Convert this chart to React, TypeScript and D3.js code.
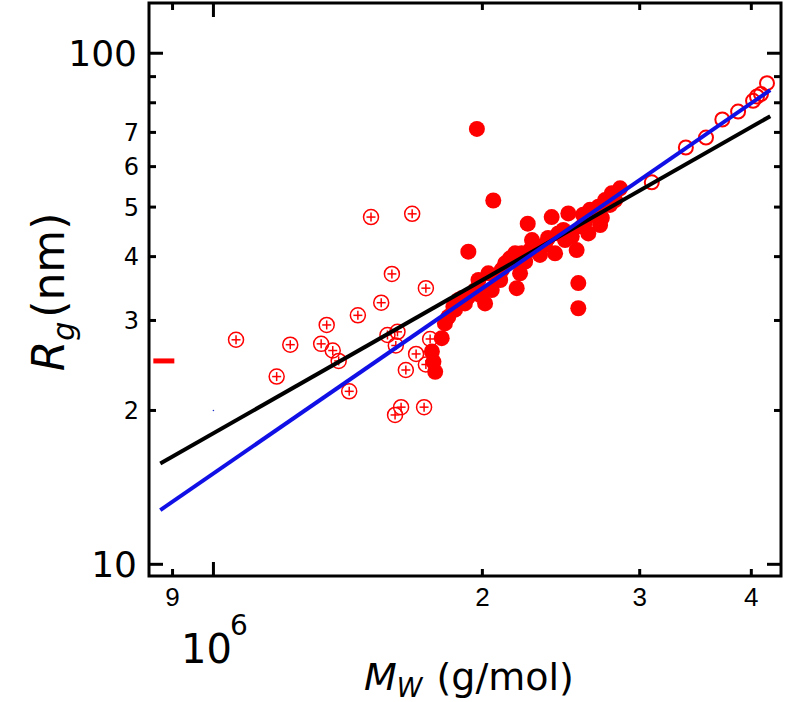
import React from "react";
import * as d3 from "d3";

// M_w in units of 10^6 g/mol, Rg in nm
const crossMw = [1.06, 1.219, 1.177, 1.32, 1.339, 1.36, 1.381, 1.419, 1.451, 1.541, 1.584, 1.729, 1.566, 1.607, 1.6, 1.748, 1.686, 1.729, 1.642, 1.597, 1.622, 1.721, 1.501, 1.669];
const crossRg = [27.5, 26.9, 23.3, 27.0, 29.4, 26.2, 25.0, 21.8, 30.7, 32.5, 37.0, 34.7, 28.1, 28.5, 26.8, 27.6, 25.8, 24.6, 24.0, 19.6, 20.3, 20.3, 47.8, 48.5];

const filledMw = [1.972, 2.057, 2.248, 1.929, 2.391, 2.496, 2.561, 2.561, 2.852, 2.791, 2.744, 2.697, 2.721, 2.64, 2.628, 2.584, 2.55, 2.518, 2.464, 2.432, 2.412, 2.35, 2.31, 2.213, 2.176, 2.148, 2.121, 2.233, 2.204, 2.185, 2.103, 2.076, 2.049, 2.031, 1.98, 1.963, 2.014, 1.929, 1.912, 1.88, 1.864, 1.832, 1.816, 1.801, 1.756, 1.763, 1.771, 1.856, 2.273, 2.593, 2.816, 2.709, 2.262, 2.369, 2.475, 2.606, 2.674, 2.779, 2.094, 1.988, 1.898, 2.32];
const filledRg = [71.1, 51.5, 46.4, 40.9, 47.8, 48.6, 35.5, 31.7, 54.4, 53.2, 51.6, 50.1, 47.6, 49.4, 44.4, 45.8, 41.2, 43.8, 45.1, 44.4, 40.6, 42.2, 41.8, 40.6, 40.6, 39.7, 38.8, 39.1, 37.1, 34.7, 37.7, 36.5, 34.4, 37.1, 36.0, 34.4, 32.4, 33.4, 32.4, 32.9, 31.5, 30.5, 29.6, 27.7, 26.1, 24.9, 23.8, 31.9, 43.1, 48.3, 51.6, 46.1, 41.2, 43.5, 43.1, 46.8, 48.3, 50.5, 36.0, 33.65, 33.2, 40.3];

const openMw = [3.095, 3.379, 3.559, 3.712, 3.866, 4.018, 4.059, 4.101, 4.165];
const openRg = [55.9, 65.4, 68.4, 74.2, 76.9, 80.7, 82.3, 83.2, 87.4];

// fitted power laws, end points
const fitMw = [0.872, 4.2];
const blackFitRg = [15.75, 75.3];
const blueFitRg = [12.77, 84.7];

// short red bar near the left axis
const barMw = 0.88;
const barRg = 25;

const xMajorTicks = [1];
const xMinorTicks = [0.9, 2, 3, 4];
const xTickLabels = ["9", "2", "3", "4"];
const yMajorTicks = [10, 100];
const yMinorTicks = [20, 30, 40, 50, 60, 70, 80, 90];
const yMinorLabels = ["2", "3", "4", "5", "6", "7", "", ""];

const W = 787;
const H = 702;
const frame = { left: 149, right: 781, top: 3, bottom: 576 };
const red = "#ff0000";

export default function App() {
  const x = d3.scaleLog().domain([0.847, 4.318]).range([frame.left, frame.right]);
  const y = d3.scaleLog().domain([9.487, 125.4]).range([frame.bottom, frame.top]);

  const line = d3
    .line<number>()
    .x((_, i) => x(fitMw[i]))
    .y((d) => y(d));

  const tickX = (v: number, len: number, key: string) => (
    <g key={key}>
      <line x1={x(v)} x2={x(v)} y1={frame.bottom} y2={frame.bottom - len} />
      <line x1={x(v)} x2={x(v)} y1={frame.top} y2={frame.top + len} />
    </g>
  );
  const tickY = (v: number, len: number, key: string) => (
    <g key={key}>
      <line x1={frame.left} x2={frame.left + len} y1={y(v)} y2={y(v)} />
      <line x1={frame.right} x2={frame.right - len} y1={y(v)} y2={y(v)} />
    </g>
  );

  return (
    <svg width={W} height={H} style={{ position: "absolute", left: 0, top: 0, background: "#fff" }}>
      {/* crossed circles */}
      <g stroke={red} strokeWidth={1.5} fill="none">
        {crossMw.map((m, i) => {
          const cx = x(m);
          const cy = y(crossRg[i]);
          return (
            <g key={"c" + i}>
              <circle cx={cx} cy={cy} r={7.5} />
              <line x1={cx - 4.5} x2={cx + 4.5} y1={cy} y2={cy} />
              <line x1={cx} x2={cx} y1={cy - 4.5} y2={cy + 4.5} />
            </g>
          );
        })}
      </g>
      {/* filled dots */}
      <g fill={red}>
        {filledMw.map((m, i) => (
          <circle key={"f" + i} cx={x(m)} cy={y(filledRg[i])} r={8} />
        ))}
      </g>
      {/* open circles */}
      <g stroke={red} strokeWidth={2} fill="none">
        {openMw.map((m, i) => (
          <circle key={"o" + i} cx={x(m)} cy={y(openRg[i])} r={7} />
        ))}
      </g>
      <line x1={x(barMw) - 10.5} x2={x(barMw) + 10.5} y1={y(barRg)} y2={y(barRg)} stroke={red} strokeWidth={5} />
      <circle cx={x(1)} cy={y(20)} r={0.8} fill="#2233cc" />

      {/* fits */}
      <path d={line(blackFitRg) || ""} stroke="#000" strokeWidth={4} fill="none" />
      <path d={line(blueFitRg) || ""} stroke="#1010e6" strokeWidth={4} fill="none" />

      {/* frame and ticks */}
      <rect x={frame.left} y={frame.top} width={frame.right - frame.left} height={frame.bottom - frame.top} fill="none" stroke="#000" strokeWidth={3} />
      <g stroke="#000" strokeWidth={3}>
        {xMajorTicks.map((v, i) => tickX(v, 14, "xM" + i))}
        {xMinorTicks.map((v, i) => tickX(v, 7, "xm" + i))}
        {yMajorTicks.map((v, i) => tickY(v, 14, "yM" + i))}
        {yMinorTicks.map((v, i) => tickY(v, 7, "ym" + i))}
      </g>

      {/* tick labels */}
      <g fontFamily="Liberation Sans, Arial, sans-serif" fontSize={26} textAnchor="middle">
        {xMinorTicks.map((v, i) => (
          <text key={"xl" + i} x={x(v)} y={606}>
            {xTickLabels[i]}
          </text>
        ))}
      </g>
      <g fontFamily="DejaVu Sans, sans-serif" textAnchor="end">
        {yMajorTicks.map((v) => (
          <text key={"yl" + v} x={137} y={y(v)} dy="0.36em" fontSize={36}>
            {v}
          </text>
        ))}
        {yMinorTicks.map((v, i) => (
          <text key={"ylm" + v} x={139} y={y(v)} dy="0.36em" fontSize={24}>
            {yMinorLabels[i]}
          </text>
        ))}
      </g>
      <g fontFamily="DejaVu Sans, sans-serif">
        <text x={181} y={663} fontSize={40}>10</text>
        <text x={230} y={635} fontSize={28}>6</text>
      </g>

      {/* axis titles */}
      <text x={364} y={690} fontFamily="DejaVu Sans, sans-serif" fontSize={38}>
        <tspan fontStyle="italic">M</tspan>
        <tspan fontStyle="italic" fontSize={26} dy={7}>W</tspan>
        <tspan dy={-7} dx={14}>(g/mol)</tspan>
      </text>
      <text transform="translate(64,292) rotate(-90)" textAnchor="middle" fontFamily="DejaVu Sans, sans-serif" fontSize={44}>
        <tspan fontStyle="italic">R</tspan>
        <tspan fontStyle="italic" fontSize={30} dy={10}>g</tspan>
        <tspan dy={-10} dx={4}>(nm)</tspan>
      </text>
    </svg>
  );
}
